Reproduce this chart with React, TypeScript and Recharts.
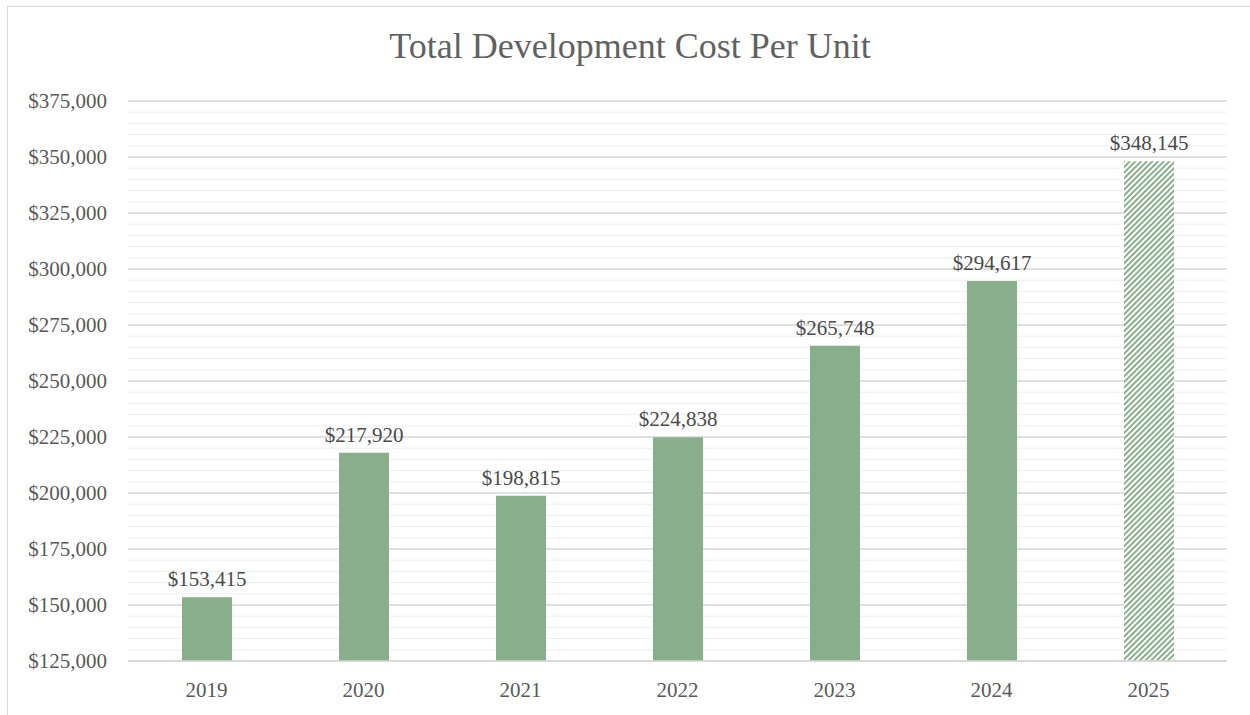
import React from "react";
import { BarChart, Bar, XAxis, YAxis, CartesianGrid, LabelList, Cell } from "recharts";

const years = ["2019", "2020", "2021", "2022", "2023", "2024", "2025"];
const costs = [153415, 217920, 198815, 224838, 265748, 294617, 348145];
const hatched = [false, false, false, false, false, false, true];
const yDomain = [125000, 375000];
const majorTicks = [125000, 150000, 175000, 200000, 225000, 250000, 275000, 300000, 325000, 350000, 375000];
const minorTicks = [
  125000, 130000, 135000, 140000, 145000, 150000, 155000, 160000, 165000, 170000, 175000,
  180000, 185000, 190000, 195000, 200000, 205000, 210000, 215000, 220000, 225000, 230000,
  235000, 240000, 245000, 250000, 255000, 260000, 265000, 270000, 275000, 280000, 285000,
  290000, 295000, 300000, 305000, 310000, 315000, 320000, 325000, 330000, 335000, 340000,
  345000, 350000, 355000, 360000, 365000, 370000, 375000,
];
const title = "Total Development Cost Per Unit";

const data = years.map((y, i) => ({ year: y, cost: costs[i], hatched: hatched[i] }));

const GREEN = "#89ae8c";
const TEXT = "#595959";
const FONT = "'Liberation Serif', 'Times New Roman', serif";

const fmt = (v: any) => "$" + Number(v).toLocaleString("en-US");

const minorCoords = (props: any) => {
  const { yAxis, offset } = props || {};
  const scale = yAxis && yAxis.scale;
  return minorTicks.map((v) => {
    if (typeof scale === "function") return scale(v);
    const top = offset.top;
    const h = offset.height;
    return top + (h * (yDomain[1] - v)) / (yDomain[1] - yDomain[0]);
  });
};

export default function App() {
  return (
    <div style={{ position: "absolute", left: 0, top: 0, width: 1250, height: 715, overflow: "hidden", background: "#fff", fontFamily: FONT }}>
      <svg width={0} height={0} style={{ position: "absolute" }}>
        <defs>
          <pattern id="hatch" patternUnits="userSpaceOnUse" width={4} height={4} patternTransform="rotate(45)">
            <rect x={0} y={0} width={4} height={4} fill="#ffffff" />
            <rect x={0} y={0} width={2} height={4} fill={GREEN} />
          </pattern>
        </defs>
      </svg>
      <div style={{ position: "absolute", left: 7, top: 6, width: 1300, height: 800, borderLeft: "1px solid #d9d9d9", borderTop: "1px solid #d9d9d9" }} />
      <div style={{ position: "absolute", left: 0, width: 1260, top: 24, textAlign: "center", fontSize: 36, color: "#616161", fontFamily: FONT, lineHeight: "44px" }}>
        {title}
      </div>
      <div style={{ position: "absolute", left: 0, top: 0 }}>
        <BarChart width={1250} height={715} data={data} margin={{ top: 101, right: 23, bottom: 14, left: 0 }}>
          <CartesianGrid vertical={false} stroke="#efefef" strokeWidth={1} horizontalCoordinatesGenerator={minorCoords} syncWithTicks={false} />
          <CartesianGrid vertical={false} stroke="#d9d9d9" strokeWidth={1.3} />
          <XAxis
            dataKey="year"
            tickLine={false}
            axisLine={{ stroke: "#d9d9d9", strokeWidth: 1.3 }}
            tickSize={0}
            tickMargin={21}
            height={40}
            tick={{ fill: TEXT, fontSize: 21, fontFamily: FONT }}
          />
          <YAxis
            type="number"
            domain={yDomain}
            ticks={majorTicks}
            width={128}
            tickLine={false}
            axisLine={false}
            tickSize={0}
            tickMargin={21}
            tickFormatter={fmt}
            tick={{ fill: TEXT, fontSize: 21, fontFamily: FONT }}
          />
          <Bar dataKey="cost" barSize={50} fill={GREEN} isAnimationActive={false}>
            {data.map((d, i) => (
              <Cell key={i} fill={d.hatched ? "url(#hatch)" : GREEN} />
            ))}
            <LabelList dataKey="cost" position="top" offset={11} formatter={fmt} fill="#4a4a4a" fontSize={21} fontFamily={FONT} />
          </Bar>
        </BarChart>
      </div>
    </div>
  );
}
